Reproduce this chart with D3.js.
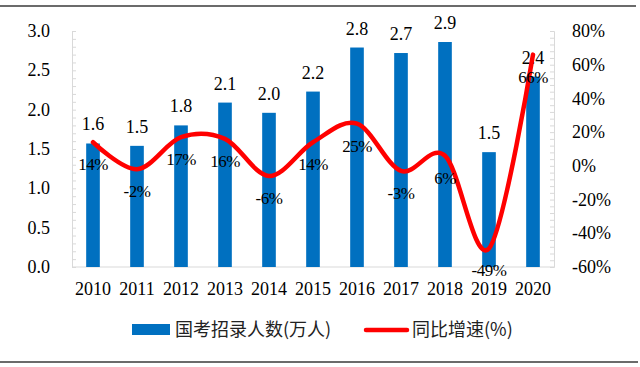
<!DOCTYPE html>
<html>
<head>
<meta charset="utf-8">
<script src="https://cdn.jsdelivr.net/npm/d3@7"></script>
<style>
  body { margin: 0; background: #fff; }
  svg { display: block; }
</style>
</head>
<body>
<script>
var width = 640;
var height = 367;

// data
var years = ["2010","2011","2012","2013","2014","2015","2016","2017","2018","2019","2020"];
var hires = [1.57, 1.54, 1.80, 2.09, 1.96, 2.23, 2.79, 2.72, 2.86, 1.46, 2.42];
var growth = [14, -2, 17, 16, -6, 14, 25, -3, 6, -49, 66];
var leftTicks = [0, 0.5, 1.0, 1.5, 2.0, 2.5, 3.0];
var rightTicks = [-60, -40, -20, 0, 20, 40, 60, 80];
var seriesNames = ["国考招录人数(万人)", "同比增速(%)"];

var numFont = "'Liberation Serif', 'Times New Roman', serif";
var cjkFont = "'Noto Sans CJK SC', 'Noto Sans', sans-serif";

var svg = d3.select("body").append("svg")
    .attr("width", width)
    .attr("height", height);

// frame lines top and bottom
svg.append("line")
    .attr("x1", 0).attr("x2", 636)
    .attr("y1", 6).attr("y2", 6)
    .attr("stroke", "#3a3a3a").attr("stroke-width", 1.5);
svg.append("line")
    .attr("x1", 0).attr("x2", 638)
    .attr("y1", 362).attr("y2", 362)
    .attr("stroke", "#3a3a3a").attr("stroke-width", 1.5);

var x = d3.scaleBand()
    .domain(years)
    .range([71, 555])
    .paddingInner(0.69)
    .paddingOuter(0.345);

var y = d3.scaleLinear().domain([0, 3]).range([267, 31]);
var yR = d3.scaleLinear().domain([-60, 80]).range([267, 31]);

var cx = function(d) { return x(d) + x.bandwidth() / 2; };

// minor ticks, inside the plot
var axisCol = "#d9d9d9";
svg.append("g")
    .attr("transform", "translate(72,0)")
    .call(d3.axisRight(y).ticks(30).tickSize(4).tickFormat(""))
    .call(function(g) {
      g.select(".domain").attr("stroke", axisCol);
      g.selectAll(".tick line").attr("stroke", axisCol);
    });
svg.append("g")
    .attr("transform", "translate(554,0)")
    .call(d3.axisLeft(yR).tickValues(d3.range(-60, 81, 4)).tickSize(4).tickFormat(""))
    .call(function(g) {
      g.select(".domain").attr("stroke", axisCol);
      g.selectAll(".tick line").attr("stroke", axisCol);
    });
svg.append("line")
    .attr("x1", 72).attr("x2", 554)
    .attr("y1", y(0)).attr("y2", y(0))
    .attr("stroke", axisCol);

// tick labels
svg.selectAll(".ytl")
    .data(leftTicks)
    .enter().append("text")
    .attr("x", 50)
    .attr("y", function(d) { return y(d); })
    .attr("dy", "0.34em")
    .attr("text-anchor", "end")
    .style("font-family", numFont).style("font-size", "18px")
    .text(function(d) { return d.toFixed(1); });

svg.selectAll(".yrl")
    .data(rightTicks)
    .enter().append("text")
    .attr("x", 572)
    .attr("y", function(d) { return yR(d); })
    .attr("dy", "0.34em")
    .style("font-family", numFont).style("font-size", "18px")
    .text(function(d) { return d + "%"; });

svg.selectAll(".xl")
    .data(years)
    .enter().append("text")
    .attr("x", cx)
    .attr("y", 295)
    .attr("text-anchor", "middle")
    .style("font-family", numFont).style("font-size", "18px")
    .text(function(d) { return d; });

// bars
svg.selectAll(".bar")
    .data(hires)
    .enter().append("rect")
    .attr("x", function(d, i) { return x(years[i]); })
    .attr("y", function(d) { return y(d); })
    .attr("width", x.bandwidth())
    .attr("height", function(d) { return y(0) - y(d); })
    .attr("fill", "#0070c0");

svg.selectAll(".barlab")
    .data(hires)
    .enter().append("text")
    .attr("x", function(d, i) { return cx(years[i]); })
    .attr("y", function(d) { return y(d) - 13; })
    .attr("text-anchor", "middle")
    .style("font-family", numFont).style("font-size", "18px")
    .text(function(d) { return d.toFixed(1); });

// smoothed growth line
var line = d3.line()
    .x(function(d, i) { return cx(years[i]); })
    .y(function(d) { return yR(d); })
    .curve(d3.curveCardinal.tension(0));

svg.append("path")
    .datum(growth)
    .attr("d", line)
    .attr("fill", "none")
    .attr("stroke", "#ff0000")
    .attr("stroke-width", 4.5)
    .attr("stroke-linecap", "round");

svg.selectAll(".pctlab")
    .data(growth)
    .enter().append("text")
    .attr("x", function(d, i) { return cx(years[i]); })
    .attr("y", function(d) { return yR(d) + 28; })
    .attr("text-anchor", "middle")
    .style("font-family", numFont).style("font-size", "17px")
    .style("letter-spacing", "-0.5px")
    .text(function(d) { return d + "%"; });

// legend
var lg = svg.append("g");
lg.append("rect")
    .attr("x", 132).attr("y", 324)
    .attr("width", 38).attr("height", 11)
    .attr("fill", "#0070c0");
lg.append("text")
    .attr("x", 175).attr("y", 330)
    .attr("dy", "0.35em")
    .style("font-family", cjkFont).style("font-size", "18px")
    .attr("fill", "#222")
    .text(seriesNames[0]);
lg.append("line")
    .attr("x1", 366).attr("x2", 407)
    .attr("y1", 330).attr("y2", 330)
    .attr("stroke", "#ff0000").attr("stroke-width", 4.5)
    .attr("stroke-linecap", "round");
lg.append("text")
    .attr("x", 412).attr("y", 330)
    .attr("dy", "0.35em")
    .style("font-family", cjkFont).style("font-size", "18px")
    .attr("fill", "#222")
    .text(seriesNames[1]);
</script>
</body>
</html>
